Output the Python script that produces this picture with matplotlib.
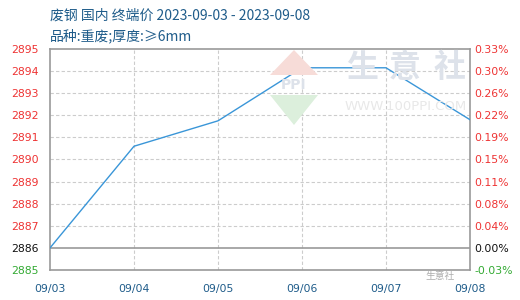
import matplotlib
matplotlib.use("Agg")
import matplotlib.pyplot as plt
from matplotlib.patches import Polygon

plt.rcParams['font.family'] = ['Noto Sans CJK SC', 'DejaVu Sans']

dates = ["09/03", "09/04", "09/05", "09/06", "09/07", "09/08"]
prices = [2886.0, 2890.6, 2891.75, 2894.15, 2894.15, 2891.8]
yticks = [2885, 2886, 2887, 2888, 2889, 2890, 2891, 2892, 2893, 2894, 2895]
pct_labels = ["-0.03%", "0.00%", "0.04%", "0.08%", "0.11%", "0.15%", "0.19%",
              "0.22%", "0.26%", "0.30%", "0.33%"]
title1 = "废钢 国内 终端价 2023-09-03 - 2023-09-08"
title2 = "品种:重废;厚度:≥6mm"

W, H = 520, 300
fig = plt.figure(figsize=(5.2, 3.0), dpi=100)
ax = fig.add_axes([50/W, 30/H, 420/W, 221/H])

x = list(range(len(dates)))
ax.plot(x, prices, color="#3a96d8", lw=1.0, zorder=3)
ax.set_xlim(0, len(dates) - 1)
ax.set_ylim(yticks[0], yticks[-1])

base = 2886
for v in yticks[1:-1]:
    if v == base:
        ax.axhline(v, color="#999999", lw=1.2, zorder=2)
    else:
        ax.axhline(v, color="#cccccc", lw=0.8, ls=(0, (3, 2)), zorder=1)
for xi in x[1:-1]:
    ax.axvline(xi, color="#cccccc", lw=0.8, ls=(0, (3, 2)), zorder=1)

for s in ax.spines.values():
    s.set_color("#999999")
    s.set_linewidth(1.2)

ax.set_yticks(yticks)
ax.set_yticklabels([str(v) for v in yticks], family="DejaVu Sans")
ax.set_xticks(x)
ax.set_xticklabels(dates, family="DejaVu Sans")
ax.tick_params(axis="both", length=0, labelsize=7.8)
ax.tick_params(axis="x", colors="#1f5c8a", pad=10)
ax.tick_params(axis="y", pad=8)

def col(v):
    if v > base:
        return "#ee3333"
    if v == base:
        return "#111111"
    return "#33aa33"

for lbl, v in zip(ax.get_yticklabels(), yticks):
    lbl.set_color(col(v))

ax2 = ax.twinx()
ax2.set_ylim(ax.get_ylim())
ax2.set_yticks(yticks)
ax2.set_yticklabels(pct_labels, family="DejaVu Sans")
ax2.tick_params(axis="y", length=0, labelsize=7.8, pad=3)
for lbl, v in zip(ax2.get_yticklabels(), yticks):
    lbl.set_color(col(v))
for s in ax2.spines.values():
    s.set_visible(False)

# watermark
for cx, ch in zip([362, 405, 450], "生意社"):
    fig.text(cx/W, 1 - 68/H, ch, fontsize=23, color="#dde2ea", ha="center", va="center",
             fontweight="bold", zorder=0)
fig.text(406/W, 1 - 107/H, "WWW.100PPI.COM", fontsize=9.5, color="#e8e8e8", ha="center",
         va="center", family="DejaVu Sans", zorder=0)
fig.patches.append(Polygon([[294/W, 1 - 50/H], [270/W, 1 - 75/H], [318/W, 1 - 75/H]], closed=True,
                           transform=fig.transFigure, facecolor="#f7dcd8", edgecolor="none", zorder=0))
fig.patches.append(Polygon([[270/W, 1 - 95/H], [318/W, 1 - 95/H], [294/W, 1 - 125/H]], closed=True,
                           transform=fig.transFigure, facecolor="#dcefdc", edgecolor="none", zorder=0))
fig.text(294/W, 1 - 85/H, "PPI", fontsize=10, color="#dde2ea", ha="center", va="center",
         family="DejaVu Sans", fontweight="bold", zorder=0)
ax.patch.set_alpha(0)

fig.text(50/W, 1 - 16/H, title1, fontsize=10, color="#1f5c8a", ha="left", va="center")
fig.text(50/W, 1 - 36/H, title2, fontsize=10, color="#1f5c8a", ha="left", va="center")
fig.text(440/W, 1 - 276/H, "生意社", fontsize=7, color="#999999", ha="center", va="center",
         alpha=0.8)

fig.savefig("out.png", dpi=100)
